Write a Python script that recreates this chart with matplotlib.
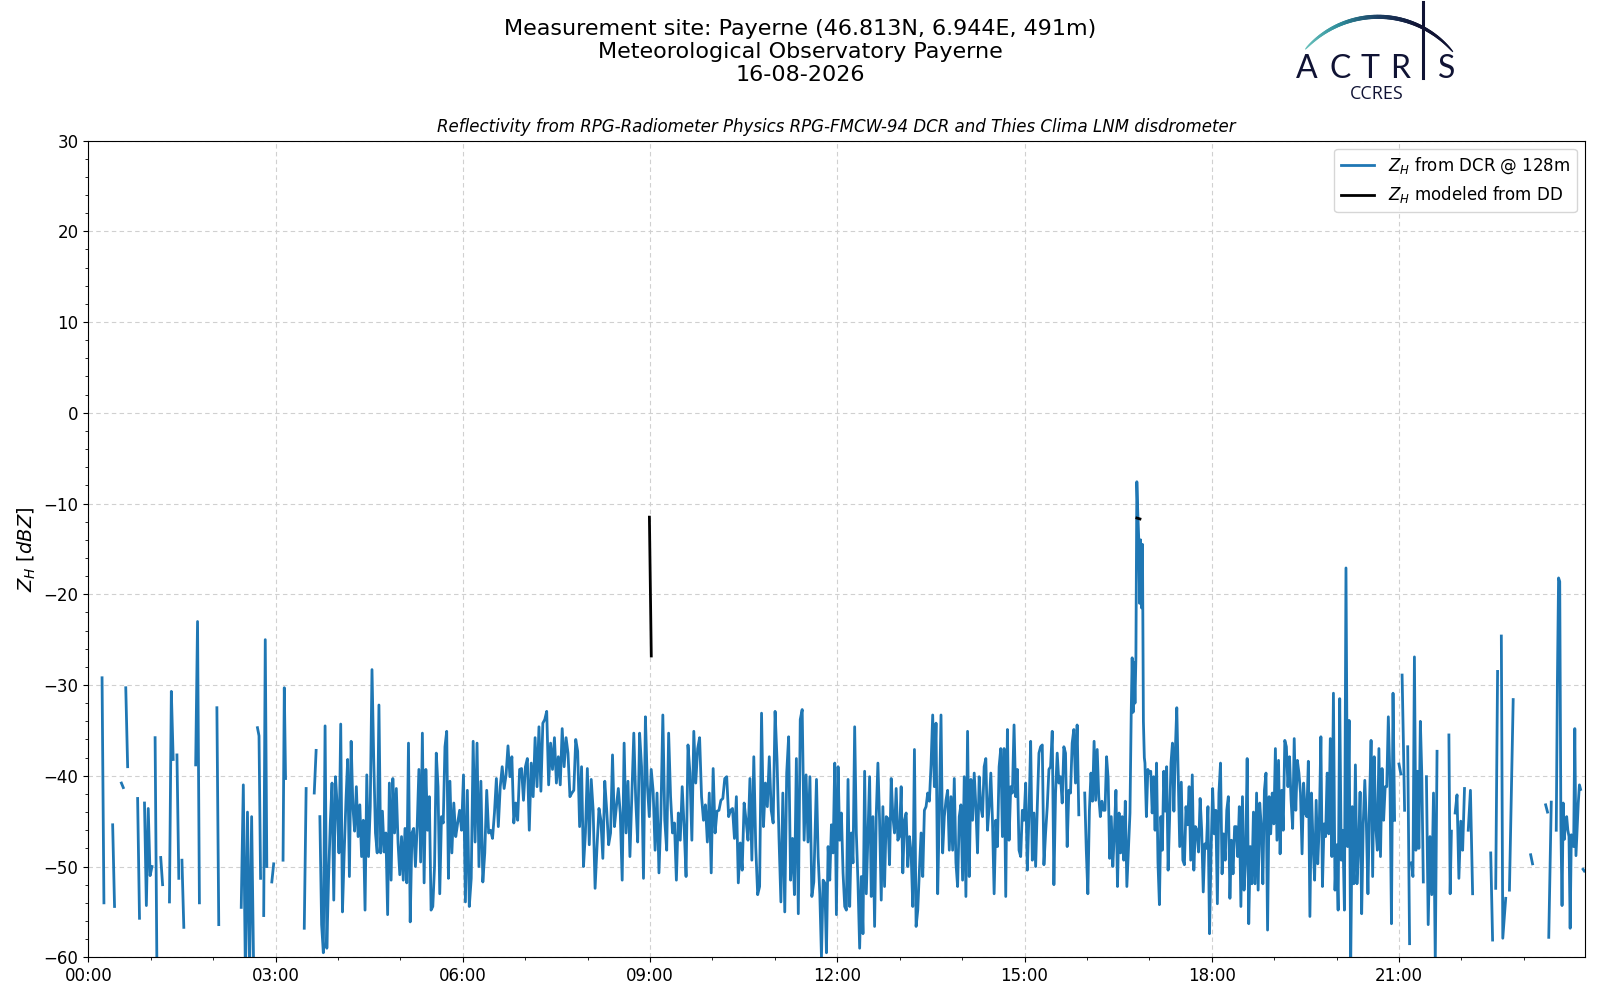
import matplotlib
matplotlib.use("Agg")
import matplotlib.pyplot as plt
import numpy as np
from matplotlib.collections import LineCollection
from matplotlib.colors import LinearSegmentedColormap
from matplotlib.lines import Line2D
from matplotlib.ticker import MultipleLocator, FuncFormatter

# ----------------- Texts --------------------------------------------- #
SITE = "Measurement site: Payerne (46.813N, 6.944E, 491m)"
STATION = "Meteorological Observatory Payerne"
DATE = "16-08-2026"
SUBTITLE = ("Reflectivity from RPG-Radiometer Physics RPG-FMCW-94 DCR "
            "and Thies Clima LNM disdrometer")
DCR_LABEL = "$Z_H$ from DCR @ 128m"
DD_LABEL = "$Z_H$ modeled from DD"
YLABEL = "$Z_H$ [$dBZ$]"

# ----------------- Data (hours of day, dBZ) -------------------------- #
# short radar pieces: (start hour, end hour, values), separated by gaps
dcr_early = [
    (0.22, 0.25, [-29.2, -54.0]),
    (0.39, 0.42, [-45.4, -54.4]),
    (0.53, 0.56, [-40.8, -41.3]),
    (0.60, 0.63, [-30.3, -39.0]),
    (0.79, 0.82, [-42.5, -55.7]),
    (0.90, 1.02, [-43.0, -54.3, -43.6, -51.0, -50.0]),
    (1.07, 1.10, [-35.8, -62.0]),
    (1.16, 1.19, [-49.0, -52.0]),
    (1.30, 1.36, [-53.9, -30.7, -38.2]),
    (1.42, 1.45, [-37.7, -51.3]),
    (1.50, 1.53, [-49.3, -56.7]),
    (1.72, 1.78, [-38.8, -23.0, -54.0]),
    (2.06, 2.09, [-32.5, -56.4]),
    (2.45, 2.65, [-54.5, -41.0, -62.0, -44.0, -62.0, -44.5, -62.0]),
    (2.71, 2.76, [-34.7, -35.6, -51.3]),
    (2.81, 2.86, [-55.4, -25.0, -50.0]),
    (2.94, 2.97, [-51.7, -49.7]),
    (3.12, 3.16, [-49.3, -30.3, -40.3]),
    (3.46, 3.49, [-56.8, -41.4]),
    (3.62, 3.65, [-41.9, -37.2]),
]

# continuous radar record 03:43 - 15:52
dcr_morning = [
    -44.5, -56.4, -59.5, -34.5, -59.0, -51.3, -45.2, -40.8, -53.7, -40.1,
    -43.4, -48.5, -34.3, -55.0, -48.5, -42.8, -38.2, -51.1, -36.2, -43.4,
    -46.1, -41.2, -46.7, -43.2, -48.9, -44.9, -54.8, -39.9, -48.9, -43.4,
    -28.3, -38.2, -46.3, -48.5, -32.2, -48.5, -43.9, -48.4, -46.3, -55.3,
    -40.8, -51.5, -40.3, -46.3, -41.4, -47.4, -50.9, -46.7, -51.5, -45.8,
    -51.8, -36.4, -56.1, -46.3, -45.8, -50.0, -45.6, -39.3, -49.5, -35.3,
    -51.8, -39.3, -46.0, -42.3, -54.8, -54.4, -50.0, -37.5, -41.2, -53.0,
    -44.5, -45.2, -36.8, -35.1, -51.3,
]
dcr_midday = [
    -40.6, -48.5, -43.0, -46.7, -45.2, -43.8, -46.0, -39.9, -53.9, -41.6,
    -54.4, -51.3, -36.2, -47.3, -36.4, -50.0, -40.6, -51.7, -48.5, -41.6,
    -46.3, -46.0, -46.9, -44.1, -40.3, -45.6, -41.2, -39.0, -41.4, -39.9,
    -36.7, -40.1, -37.9, -45.2, -43.0, -44.9, -39.3, -39.2, -42.7, -39.0,
    -38.1, -46.0, -38.6, -42.3, -35.8, -41.2, -34.6, -41.7, -34.2, -33.8,
    -32.9, -41.0, -36.4, -39.3, -35.8, -40.8, -37.9, -41.0, -34.8, -39.0,
    -35.8, -37.5, -42.3, -41.9, -41.6, -36.0, -37.3, -45.6, -39.0, -50.0,
    -46.3, -39.2, -47.6, -40.4, -43.8, -52.4, -47.8, -43.6, -44.9, -49.1,
    -40.6, -43.8, -47.6, -46.3, -37.7, -45.6, -43.4, -41.4, -44.1, -51.5,
    -36.4, -46.3, -40.6, -48.9, -41.9, -35.3, -42.7, -47.3, -35.3, -39.0,
    -51.3, -33.5, -41.0, -44.5, -39.3, -41.7, -48.2, -41.9, -50.7, -44.3,
    -33.3, -44.9, -48.2, -35.3, -42.3, -46.3, -45.2, -51.5, -44.1, -47.1,
    -41.2, -45.6, -51.1, -36.6, -39.7, -47.1, -35.1, -40.8, -37.0, -35.8,
    -42.3, -44.9, -43.2, -47.3, -41.9, -50.7, -39.2, -46.3, -43.9, -43.8,
    -42.7, -42.5, -40.3, -40.1, -44.5, -43.8, -43.6, -46.9, -42.3, -51.8,
    -47.4, -50.4, -43.0, -44.9, -47.1, -40.3, -49.3, -37.9, -47.8, -53.1,
    -52.2, -33.1, -45.6, -40.8, -43.4, -37.9, -43.8, -45.2, -32.9, -38.2,
    -46.7, -53.9, -41.9, -55.0, -39.7, -35.7, -51.5, -46.9, -53.1, -38.1,
    -55.2, -33.8, -32.7, -47.1, -39.9, -47.3, -40.1, -53.3, -51.7,
]
dcr_afternoon = [
    -40.4, -48.9, -53.0, -60.0, -51.5, -51.8, -59.5, -47.8, -51.5, -45.4,
    -48.5, -38.6, -55.3, -39.0, -47.1, -44.1, -50.7, -54.4, -54.8, -40.4,
    -54.4, -46.3, -49.6, -34.6, -46.3, -51.8, -59.0, -51.1, -57.4, -39.5,
    -53.0, -46.7, -40.1, -53.3, -44.5, -56.6, -44.3, -38.6, -44.9, -53.7,
    -43.4, -52.2, -44.5, -44.7, -49.8, -40.3, -44.5, -46.3, -41.4, -47.1,
    -46.7, -41.2, -50.7, -44.9, -44.1, -50.0, -46.7, -48.5, -54.4, -37.1,
    -56.6, -54.8, -50.4, -46.3, -51.1, -43.8, -43.4, -41.9, -42.8, -38.8,
    -33.3, -41.2, -34.2, -53.0, -43.8, -33.3, -48.5, -44.5, -42.7, -41.6,
    -48.2, -42.3, -48.2, -40.3, -49.6, -52.2, -44.5, -43.2, -51.5, -40.1,
    -53.3, -35.1, -51.1, -40.4, -44.9, -39.7, -43.4, -48.5, -40.1, -43.4,
    -44.5, -39.0, -38.1, -46.0, -43.4, -39.7, -44.9, -53.0, -44.9, -47.8,
    -39.0, -37.0, -46.7, -37.0, -53.3, -34.9, -47.1, -41.2, -41.9, -34.4,
    -42.3, -39.3, -48.2, -48.9, -43.8, -44.9, -40.8, -50.4, -44.1, -36.2,
    -49.3, -44.1, -50.0, -43.4, -37.5, -36.8, -36.6, -49.8, -46.3, -43.4,
    -39.3, -39.0, -35.1, -52.0, -41.9, -37.5, -40.8, -40.1, -43.0, -36.8,
    -37.5, -47.8, -41.6, -41.9, -36.4, -34.9, -40.8, -34.4, -44.3,
]

# continuous radar record 15:58 - 20:56, with the rain peak near 16:48
dcr_before_peak = [
    -41.9, -48.2, -53.0, -43.8, -39.7, -42.8, -36.2, -42.7, -37.1, -42.3,
    -44.5, -42.8, -43.8, -43.8, -37.9, -40.3, -49.1, -44.5, -50.0, -46.3,
    -41.6, -52.2, -44.1, -48.5, -44.5, -49.3, -42.8, -52.2, -48.2, -44.1,
]
dcr_peak = [-33.0, -27.0, -33.0, -27.5, -32.0, -27.0, -7.6, -11.0, -13.8,
            -21.0, -14.0, -21.5, -14.5, -34.0, -38.0]
dcr_after_peak = [
    -38.6, -44.5, -39.3, -39.7, -39.5, -44.1, -40.1, -46.0, -38.6, -49.6,
    -54.2, -44.5, -48.2, -39.5, -43.9, -39.0, -50.4, -44.9, -38.6, -36.4,
    -43.9, -37.1, -32.5,
]
dcr_evening = [
    -47.8, -40.7, -49.3, -49.8, -43.4, -45.4, -41.2, -49.3, -39.9, -50.4,
    -45.6, -46.0, -48.4, -42.5, -46.0, -52.8, -47.5, -48.0, -43.4, -57.4,
    -48.2, -41.4, -46.4, -43.8, -54.1, -41.9, -38.6, -50.8, -46.4, -49.3,
    -43.8, -42.3, -53.5, -47.1, -50.8, -45.6, -45.6, -48.9, -43.4, -54.4,
    -42.3, -52.6, -49.3, -38.1, -56.3, -47.8, -51.9, -44.0, -51.9, -41.9,
    -52.6, -43.0, -45.6, -51.9, -41.6, -39.7, -57.0, -42.3, -46.4, -41.9,
    -45.3, -37.0, -47.1, -38.3, -48.6, -41.6, -46.0, -36.1, -36.8, -41.2,
    -37.9, -42.7, -45.8, -35.9, -43.8, -38.3, -39.7, -41.9, -48.6, -40.8,
    -44.1, -44.5, -38.4, -55.5, -41.9, -47.5, -51.5, -42.7, -49.7, -45.3,
    -35.7, -52.2, -45.3, -46.7, -39.7, -46.4, -35.9, -48.9, -30.9, -52.6,
    -47.6, -54.8, -31.5, -49.3, -46.0, -54.8, -17.1, -47.8, -33.9, -61.0,
    -43.4, -51.9, -38.8, -51.9, -47.8, -41.8, -55.2, -45.3, -40.5, -45.3,
    -53.0, -43.0, -36.1, -51.1, -37.9, -45.6, -48.2, -37.0, -48.9, -39.2,
    -44.9, -41.2, -41.2, -33.5, -40.1, -56.3, -30.9, -44.9,
]

dcr_late = [
    (21.00, 21.03, [-38.7, -39.8]),
    (21.05, 21.09, [-28.9, -36.0, -43.8]),
    (21.14, 21.17, [-36.8, -58.5]),
    (21.20, 21.39, [-49.6, -51.1, -26.9, -48.2, -39.5, -48.0, -34.0, -40.0, -51.7]),
    (21.44, 21.61, [-40.1, -56.4, -46.7, -53.1, -41.9, -60.5, -37.3]),
    (21.80, 21.84, [-35.5, -53.0, -46.1]),
    (21.90, 22.05, [-44.1, -42.1, -51.3, -45.0, -48.2, -41.4]),
    (22.11, 22.18, [-46.0, -41.6, -53.0]),
    (22.47, 22.50, [-48.5, -58.1]),
    (22.55, 22.58, [-52.4, -28.5]),
    (22.64, 22.71, [-24.6, -57.9, -55.7, -53.5]),
    (22.77, 22.83, [-52.6, -31.6]),
    (23.11, 23.14, [-48.7, -49.7]),
    (23.35, 23.38, [-43.2, -44.0]),
    (23.40, 23.44, [-57.8, -42.9]),
    (23.52, 23.91, [-46.0, -29.6, -18.2, -18.6, -45.5, -54.3, -43.0, -47.0,
                    -45.0, -44.5, -46.0, -46.7, -56.8, -46.5, -47.0, -47.8,
                    -34.8, -48.8, -46.0, -43.0, -41.0, -41.5]),
    (23.95, 23.97, [-50.3, -50.5]),
]

# disdrometer modelled reflectivity
dd_pieces = [
    (8.99, 9.02, [-11.5, -26.8]),
    (16.80, 16.85, [-11.6, -11.7]),
]


# --------------------------------------------------------------------- #
def chain(*parts):
    """Join (start, end, values) parts into one unbroken piece."""
    t = np.concatenate([np.linspace(s, e, len(v)) for s, e, v in parts])
    z = np.concatenate([np.asarray(v, dtype=float) for s, e, v in parts])
    return t, z


def join(pieces):
    """Put NaN between pieces so matplotlib leaves gaps."""
    ts, zs = [], []
    for t, z in pieces:
        ts += [t, [np.nan]]
        zs += [z, [np.nan]]
    return np.concatenate(ts), np.concatenate(zs)


pieces = [chain(p) for p in dcr_early]
pieces.append(chain((3.71, 5.77, dcr_morning),
                    (5.794, 11.624, dcr_midday),
                    (11.667, 15.87, dcr_afternoon)))
pieces.append(chain((15.965, 16.69, dcr_before_peak),
                    (16.71, 16.92, dcr_peak),
                    (16.93, 17.44, dcr_after_peak),
                    (17.487, 20.93, dcr_evening)))
pieces += [chain(p) for p in dcr_late]
dcr_t, dcr_z = join(pieces)
dd_t, dd_z = join([chain(p) for p in dd_pieces])

# ----------------- Plot ---------------------------------------------- #
plt.rc('font', size=12)

fig = plt.figure(figsize=(16, 10), dpi=100)
ax = fig.add_axes([0.0552, 0.0427, 0.9354, 0.8168])

ax.plot(dcr_t, dcr_z, color='#1f77b4', linewidth=2, label=DCR_LABEL)
ax.plot(dd_t, dd_z, color='black', linewidth=2, label=DD_LABEL)

ax.set_xlim(0, 23.98)
ax.set_ylim(-60, 30)
ax.xaxis.set_major_locator(MultipleLocator(3))
ax.xaxis.set_minor_locator(MultipleLocator(1))
ax.xaxis.set_major_formatter(FuncFormatter(lambda x, _: f"{int(round(x)):02d}:00"))
ax.yaxis.set_major_locator(MultipleLocator(10))
ax.yaxis.set_minor_locator(MultipleLocator(2))
ax.grid(True, which='major', color='#d0d0d0', linestyle=(0, (4, 3)), linewidth=0.8)
ax.tick_params(labelsize=12)

ax.set_ylabel(YLABEL, fontsize=14)
ax.set_title(SUBTITLE, fontstyle='italic', fontsize=12)
ax.legend(loc='upper right', fontsize=12)

fig.text(0.5, 0.948, f"{SITE}\n{STATION}\n{DATE}", ha='center', va='center',
         fontsize=16, linespacing=1.16)

# ----------------- ACTRIS logo --------------------------------------- #
navy = '#101334'
W, H = 1600.0, 1000.0
for letter, px in zip("ACTRS", [1307, 1340, 1370, 1400, 1447]):
    fig.text(px / W, 1 - 78.3 / H, letter, ha='center', va='baseline',
             fontsize=23, color=navy, family='Lato')
fig.text(1377 / W, 1 - 99.3 / H, "CCRES", ha='center', va='baseline',
         fontsize=13, color=navy, family='Open Sans')

theta = np.radians(np.linspace(138, 40, 120))
arc_x = (1378 + 97.5 * np.cos(theta)) / W
arc_y = 1 - (114.3 - 97.5 * np.sin(theta)) / H
segs = np.stack([np.column_stack([arc_x[:-1], arc_y[:-1]]),
                 np.column_stack([arc_x[1:], arc_y[1:]])], axis=1)
cmap = LinearSegmentedColormap.from_list('actris', ['#6cc3bd', '#2f8f9c', '#1c3f64', navy, navy])
frac = np.linspace(0, 1, len(segs))
arc = LineCollection(segs, colors=cmap(frac), linewidths=0.8 + 2.2 * np.sin(np.pi * frac) ** 0.6,
                     transform=fig.transFigure, capstyle='round')
fig.add_artist(arc)
fig.add_artist(Line2D([1422.7 / W] * 2, [1 - 1.7 / H, 1 - 78.3 / H], color=navy,
                      linewidth=2.2, transform=fig.transFigure))

fig.savefig('out.png', dpi=100)
